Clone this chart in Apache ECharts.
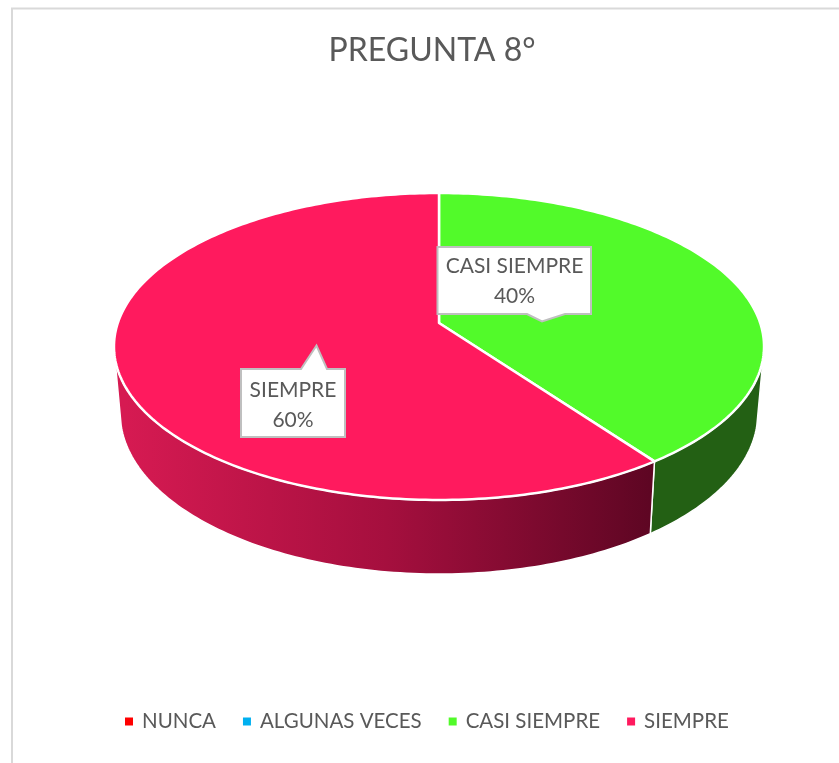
<!DOCTYPE html>
<html>
<head>
<meta charset="utf-8">
<style>html,body{margin:0;padding:0;background:#fff}#c{width:839px;height:763px}</style>
<script src="https://cdn.jsdelivr.net/npm/echarts@6/dist/echarts.min.js"></script>
</head>
<body>
<div id="c"></div>
<script>
const categories = ['NUNCA', 'ALGUNAS VECES', 'CASI SIEMPRE', 'SIEMPRE'];
const values = [0, 0, 40, 60];
const colors = ['#FF0000', '#00B0F0', '#52FA2A', '#FF1A5E'];
const titleText = 'PREGUNTA 8°';

// Perspective projection of the pie disc
const TOP = { cx: 439, cy: 323, a: 321.2, b: 149.9, k: 0.153 };
const BOT = { cx: 439, cy: 388.7, a: 315, b: 157, k: 0.153 };
const SIDE_FROM = 103, SIDE_TO = 257;
const FONT = 'Lato, "Noto Sans", sans-serif';
const TEXT = '#595959';

const sides = {
  'CASI SIEMPRE': '#236014',
  'SIEMPRE': {
    type: 'linear', x: 125, y: 0, x2: 650, y2: 0, global: true,
    colorStops: [{ offset: 0, color: '#D61A52' }, { offset: 0.5, color: '#A50F3E' }, { offset: 1, color: '#5E0623' }]
  }
};
// Callouts, offsets from the disc's apex
const callouts = {
  'CASI SIEMPRE': { l: -1.5, r: 152, t: -76, b: -9, tipL: 88, tip: 103, tipR: 126, tipY: -1.5, tx: 75.5, ty1: -57, ty2: -27 },
  'SIEMPRE': { l: -198, r: -94, t: 46, b: 114, tipL: -138, tip: -122.5, tipR: -112, tipY: 22.5, tx: -146, ty1: 67, ty2: 97 }
};

const total = values.reduce((s, v) => s + v, 0);
const starts = values.map((_, i) => values.slice(0, i).reduce((s, v) => s + v, 0) / total * 360);

function proj(p, deg) {
  const t = deg * Math.PI / 180, u = Math.sin(t), v = -Math.cos(t), w = 1 - p.k * v;
  return [p.cx + p.a * u / w, p.cy + p.b * v / w];
}
function arc(p, from, to) {
  const n = Math.max(2, Math.ceil(Math.abs(to - from))), pts = [];
  for (let i = 0; i <= n; i++) pts.push(proj(p, from + (to - from) * i / n));
  return pts;
}

function renderSlice(idx) {
  return function (params, api) {
    const val = api.value(0);
    if (!val) return { type: 'group', children: [] };
    const from = starts[idx], to = from + val / total * 360, name = categories[idx];
    const children = [];
    const a = Math.max(from, SIDE_FROM), b = Math.min(to, SIDE_TO);
    if (b > a) {
      children.push({
        type: 'polygon', z2: 1,
        shape: { points: arc(TOP, a, b).concat(arc(BOT, a, b).reverse()) },
        style: { fill: sides[name], stroke: '#fff', lineWidth: 1.5 }
      });
    }
    children.push({
      type: 'polygon', z2: 2,
      shape: { points: [[TOP.cx, TOP.cy]].concat(arc(TOP, from, to)) },
      style: { fill: api.visual('color'), stroke: '#fff', lineWidth: 2.5, lineJoin: 'round' }
    });
    const c = callouts[name], X = TOP.cx, Y = TOP.cy;
    if (c) {
      const tipDown = c.tipY > c.b;
      const pts = tipDown
        ? [[c.l, c.t], [c.r, c.t], [c.r, c.b], [c.tipR, c.b], [c.tip, c.tipY], [c.tipL, c.b], [c.l, c.b]]
        : [[c.l, c.t], [c.tipL, c.t], [c.tip, c.tipY], [c.tipR, c.t], [c.r, c.t], [c.r, c.b], [c.l, c.b]];
      children.push({
        type: 'polygon', z2: 50,
        shape: { points: pts.map(q => [X + q[0], Y + q[1]]) },
        style: { fill: '#fff', stroke: '#BFBFBF', lineWidth: 2 }
      });
      [[name, c.ty1], [Math.round(val / total * 100) + '%', c.ty2]].forEach(l => {
        children.push({
          type: 'text', z2: 51,
          style: { x: X + c.tx, y: Y + l[1], text: l[0], fill: TEXT, font: '21px ' + FONT, align: 'center', verticalAlign: 'middle' }
        });
      });
    }
    return { type: 'group', children };
  };
}

const chart = echarts.init(document.getElementById('c'), null, { renderer: 'canvas' });
chart.setOption({
  animation: false,
  backgroundColor: '#fff',
  color: colors,
  title: {
    text: titleText, left: 427, top: 30, textAlign: 'center',
    textStyle: { color: TEXT, fontSize: 32, fontWeight: 'normal', fontFamily: FONT }
  },
  legend: {
    data: categories, left: 120, top: 706, icon: 'rect', itemWidth: 8, itemHeight: 8, itemGap: 27,
    selectedMode: false,
    textStyle: { color: TEXT, fontSize: 20.5, fontFamily: FONT, padding: [0, 0, 0, 4] }
  },
  graphic: [{
    type: 'rect', silent: true,
    shape: { x: 12, y: 8.5, width: 900, height: 800 },
    style: { fill: 'none', stroke: '#D9D9D9', lineWidth: 2 }
  }],
  series: categories.map((name, i) => ({
    type: 'custom', name, coordinateSystem: 'none', silent: true,
    itemStyle: { color: colors[i] },
    renderItem: renderSlice(i),
    data: [[values[i]]]
  }))
});
</script>
</body>
</html>
